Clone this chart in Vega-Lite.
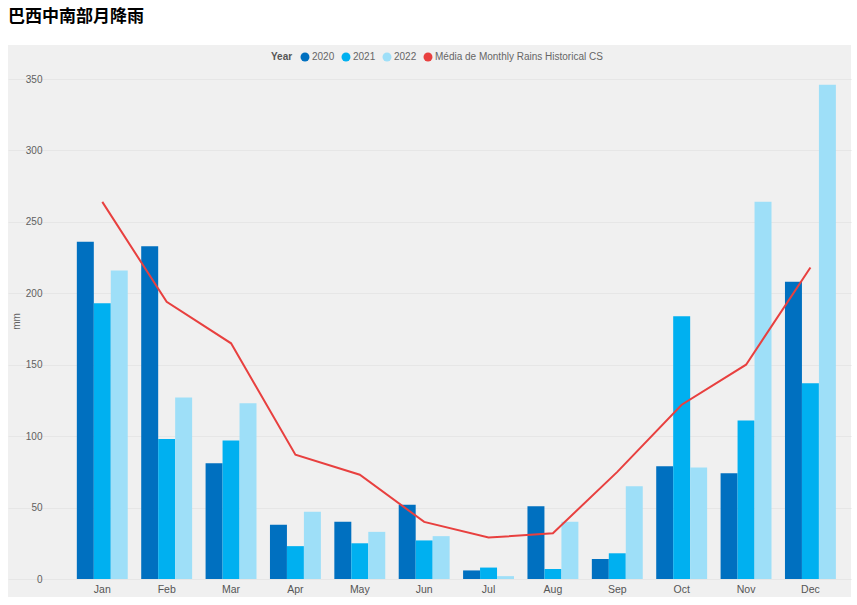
{
  "$schema": "https://vega.github.io/schema/vega-lite/v6.json",
  "width": 843,
  "height": 552,
  "padding": {"left": 8, "top": 8, "right": 6, "bottom": 5},
  "background": "white",
  "title": {"text": "巴西中南部月降雨", "anchor": "start", "frame": "group", "font": "Noto Sans CJK SC", "fontSize": 17, "fontWeight": "bold", "color": "#000000", "offset": 19},
  "config": {
    "view": {"fill": "#f0f0f0", "stroke": null},
    "font": "Liberation Sans"
  },
  "data": {
    "values": [
      {"Month": "Jan", "Series": "2020", "Rain": 236},
      {"Month": "Jan", "Series": "2021", "Rain": 193},
      {"Month": "Jan", "Series": "2022", "Rain": 216},
      {"Month": "Feb", "Series": "2020", "Rain": 233},
      {"Month": "Feb", "Series": "2021", "Rain": 98},
      {"Month": "Feb", "Series": "2022", "Rain": 127},
      {"Month": "Mar", "Series": "2020", "Rain": 81},
      {"Month": "Mar", "Series": "2021", "Rain": 97},
      {"Month": "Mar", "Series": "2022", "Rain": 123},
      {"Month": "Apr", "Series": "2020", "Rain": 38},
      {"Month": "Apr", "Series": "2021", "Rain": 23},
      {"Month": "Apr", "Series": "2022", "Rain": 47},
      {"Month": "May", "Series": "2020", "Rain": 40},
      {"Month": "May", "Series": "2021", "Rain": 25},
      {"Month": "May", "Series": "2022", "Rain": 33},
      {"Month": "Jun", "Series": "2020", "Rain": 52},
      {"Month": "Jun", "Series": "2021", "Rain": 27},
      {"Month": "Jun", "Series": "2022", "Rain": 30},
      {"Month": "Jul", "Series": "2020", "Rain": 6},
      {"Month": "Jul", "Series": "2021", "Rain": 8},
      {"Month": "Jul", "Series": "2022", "Rain": 2},
      {"Month": "Aug", "Series": "2020", "Rain": 51},
      {"Month": "Aug", "Series": "2021", "Rain": 7},
      {"Month": "Aug", "Series": "2022", "Rain": 40},
      {"Month": "Sep", "Series": "2020", "Rain": 14},
      {"Month": "Sep", "Series": "2021", "Rain": 18},
      {"Month": "Sep", "Series": "2022", "Rain": 65},
      {"Month": "Oct", "Series": "2020", "Rain": 79},
      {"Month": "Oct", "Series": "2021", "Rain": 184},
      {"Month": "Oct", "Series": "2022", "Rain": 78},
      {"Month": "Nov", "Series": "2020", "Rain": 74},
      {"Month": "Nov", "Series": "2021", "Rain": 111},
      {"Month": "Nov", "Series": "2022", "Rain": 264},
      {"Month": "Dec", "Series": "2020", "Rain": 208},
      {"Month": "Dec", "Series": "2021", "Rain": 137},
      {"Month": "Dec", "Series": "2022", "Rain": 346},
      {"Month": "Jan", "Series": "Média de Monthly Rains Historical CS", "Rain": 264},
      {"Month": "Feb", "Series": "Média de Monthly Rains Historical CS", "Rain": 194},
      {"Month": "Mar", "Series": "Média de Monthly Rains Historical CS", "Rain": 165},
      {"Month": "Apr", "Series": "Média de Monthly Rains Historical CS", "Rain": 87},
      {"Month": "May", "Series": "Média de Monthly Rains Historical CS", "Rain": 73},
      {"Month": "Jun", "Series": "Média de Monthly Rains Historical CS", "Rain": 40},
      {"Month": "Jul", "Series": "Média de Monthly Rains Historical CS", "Rain": 29},
      {"Month": "Aug", "Series": "Média de Monthly Rains Historical CS", "Rain": 32},
      {"Month": "Sep", "Series": "Média de Monthly Rains Historical CS", "Rain": 75},
      {"Month": "Oct", "Series": "Média de Monthly Rains Historical CS", "Rain": 122},
      {"Month": "Nov", "Series": "Média de Monthly Rains Historical CS", "Rain": 150},
      {"Month": "Dec", "Series": "Média de Monthly Rains Historical CS", "Rain": 218}
    ]
  },
  "encoding": {
    "x": {
      "field": "Month", "type": "nominal",
      "sort": ["Jan","Feb","Mar","Apr","May","Jun","Jul","Aug","Sep","Oct","Nov","Dec"],
      "scale": {"paddingInner": 0.209, "paddingOuter": 0.652, "align": 0.82},
      "axis": {"title": null, "offset": -18, "domain": false, "ticks": false, "labelPadding": 5, "labelAngle": 0, "labelFontSize": 10.5, "labelColor": "#555555", "grid": false}
    },
    "y": {
      "field": "Rain", "type": "quantitative",
      "scale": {"domain": [-12.6, 373.8], "nice": false, "zero": false},
      "axis": {"title": "mm", "values": [0,50,100,150,200,250,300,350], "offset": -42, "domain": false, "ticks": false, "tickSize": 0, "labelPadding": 8, "labelColor": "#5f5f5f", "labelFontSize": 10, "gridColor": "#e6e6e6", "titleFontWeight": "normal", "titleFontSize": 10, "titleColor": "#5f5f5f", "titlePadding": 4}
    },
    "color": {
      "field": "Series", "type": "nominal",
      "scale": {"domain": ["2020","2021","2022","Média de Monthly Rains Historical CS"], "range": ["#0070c0","#00b0f0","#9edff8","#e8403f"]},
      "legend": {"orient": "none", "legendX": 263, "legendY": 7, "direction": "horizontal", "title": "Year", "titleOrient": "left", "titleFontSize": 10, "titleColor": "#555555", "titleFontWeight": "bold", "titlePadding": 7, "symbolType": "circle", "symbolSize": 80, "symbolStrokeWidth": 0, "labelFontSize": 10, "labelColor": "#666666", "labelOffset": 2, "labelLimit": 400, "columnPadding": 6}
    }
  },
  "layer": [
    {
      "transform": [{"filter": "datum.Series !== 'Média de Monthly Rains Historical CS'"}],
      "mark": {"type": "bar"},
      "encoding": {
        "xOffset": {"field": "Series", "type": "nominal", "scale": {"paddingInner": 0, "paddingOuter": 0}, "sort": ["2020","2021","2022"]},
        "y2": {"datum": 0}
      }
    },
    {
      "transform": [{"filter": "datum.Series === 'Média de Monthly Rains Historical CS'"}],
      "mark": {"type": "line", "strokeWidth": 2}
    }
  ]
}
